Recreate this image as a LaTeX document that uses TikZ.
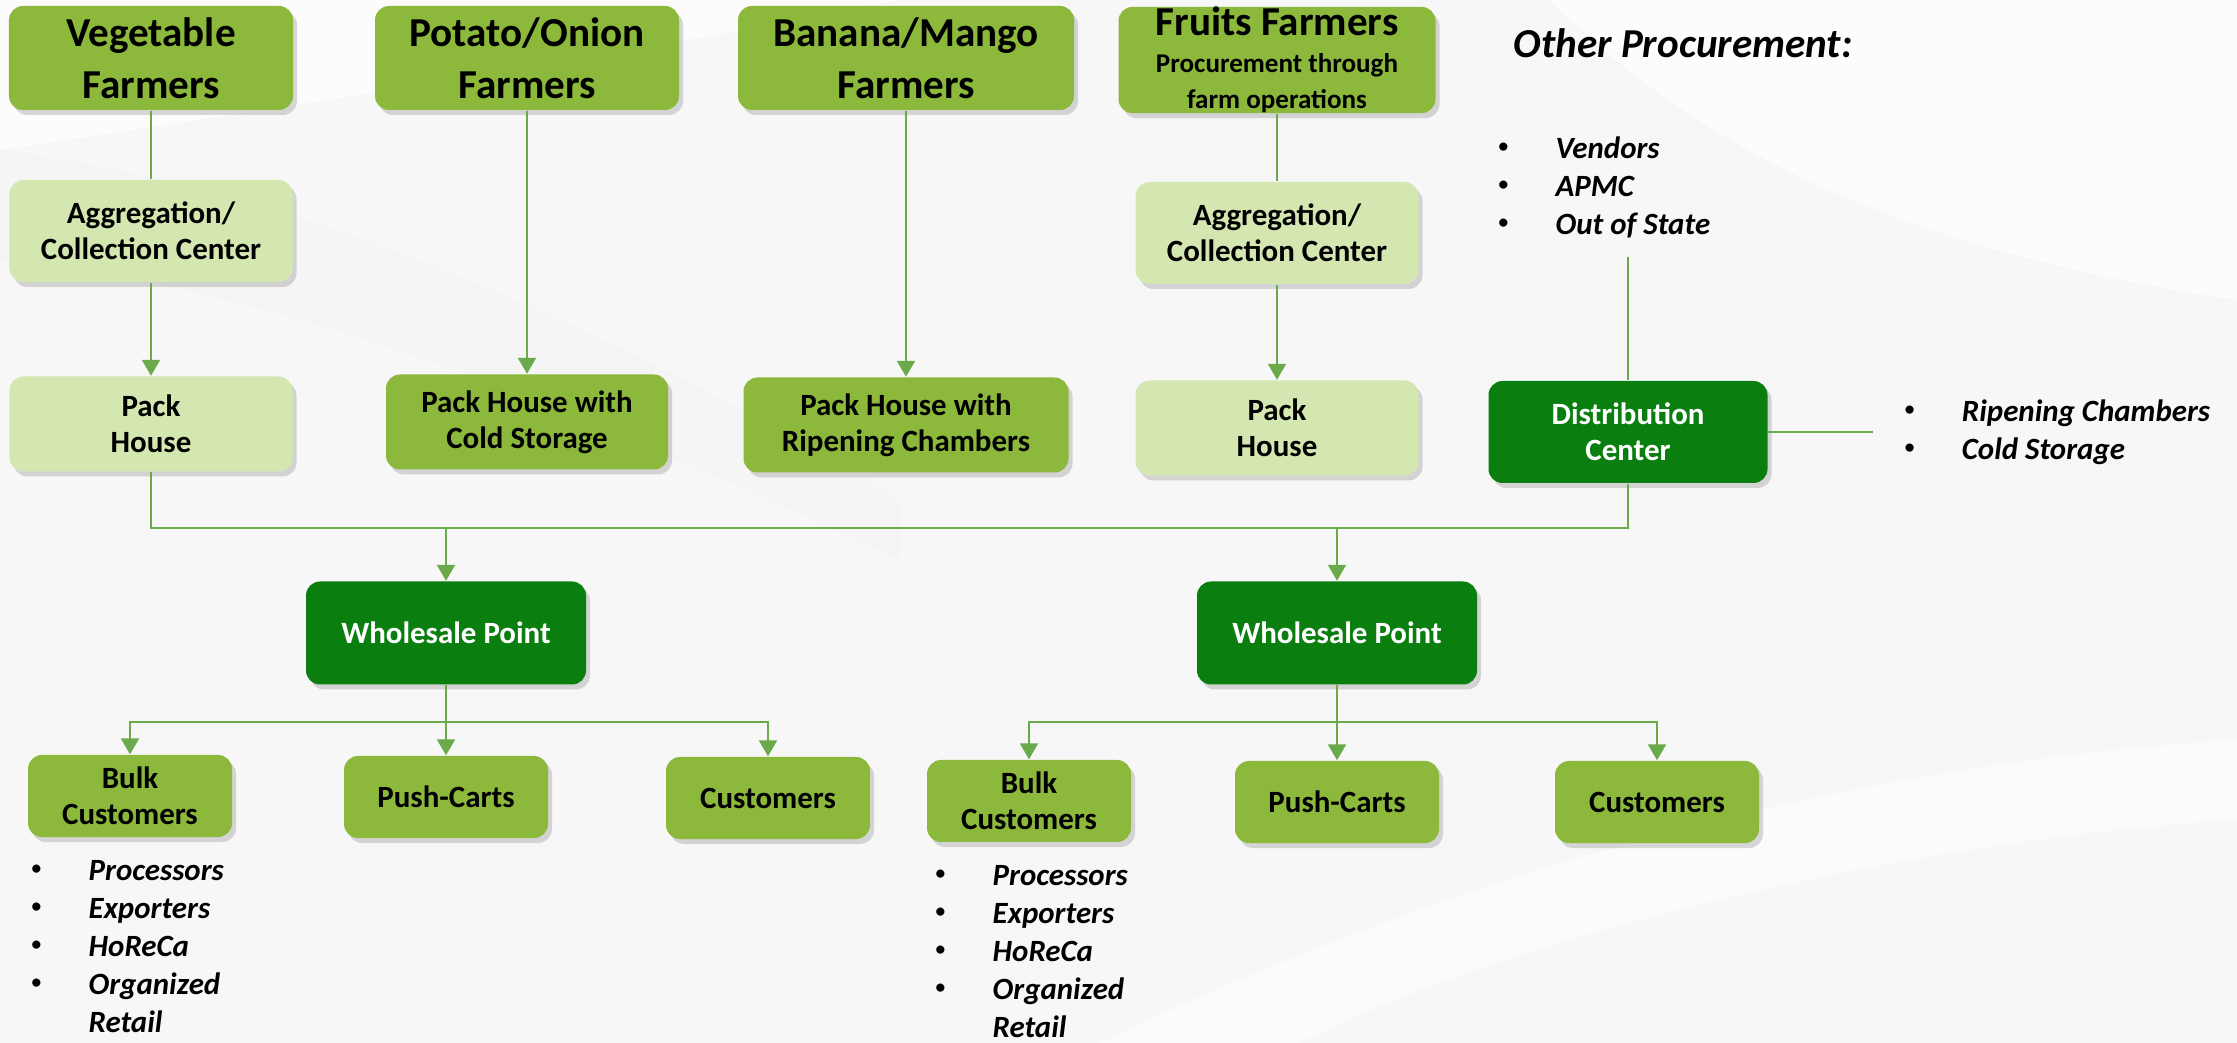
\documentclass[tikz,border=0pt]{standalone}
\usepackage{fontspec}
\setmainfont{Carlito}
\usetikzlibrary{positioning,shadows,arrows.meta}

\definecolor{leafgreen}{HTML}{8CB83B}
\definecolor{palegreen}{HTML}{D4E7B0}
\definecolor{deepgreen}{HTML}{0A7F10}
\definecolor{linegreen}{HTML}{6AAA4A}

\newcommand{\bigtxt}{\fontsize{11.7}{14.8}\selectfont\bfseries}
\newcommand{\midtxt}{\fontsize{8.8}{10.3}\selectfont\bfseries}
\newcommand{\smalltxt}{\fontsize{7.7}{9.4}\selectfont\bfseries}
\newcommand{\listtxt}{\fontsize{8.8}{10.8}\selectfont\bfseries\itshape}
\newcommand{\bul}[1]{\makebox[0.6cm][l]{\hspace*{0.03cm}\raisebox{0.06cm}{\fontsize{5.5}{5.5}\selectfont\upshape\textbullet}}#1}
\newcommand{\nobul}[1]{\hspace*{0.6cm}#1}

\tikzset{
  box/.style={rounded corners=0.14cm, align=center, inner sep=0pt,
    drop shadow={shadow xshift=0.04cm, shadow yshift=-0.05cm, opacity=0.3}},
  farmbox/.style={box, fill=leafgreen, font=\bigtxt, minimum height=1.04cm},
  lightbox/.style={box, fill=palegreen, font=\midtxt, minimum width=2.83cm},
  midbox/.style={box, fill=leafgreen, font=\midtxt},
  darkbox/.style={box, fill=deepgreen, text=white, font=\midtxt, minimum height=1.02cm},
  endbox/.style={box, fill=leafgreen, font=\midtxt, minimum width=2.04cm, minimum height=0.82cm},
  bullist/.style={align=left, font=\listtxt, inner sep=0pt},
  link/.style={draw=linegreen, line width=0.6pt},
  >={Triangle[width=0.18cm,length=0.16cm]}
}

\begin{document}
\begin{tikzpicture}
    % Background
    \fill[black!3] (0,0) rectangle (22.37,-10.43);
    \fill[white,opacity=0.7] (0,0) -- (9,0) .. controls (6,-0.6) and (2,-1.2) .. (0,-1.5) -- cycle;
    \fill[black!4,opacity=0.6] (0,-1.5) .. controls (3,-1.9) and (6,-3.2) .. (9,-5.0) -- (9,-5.6) .. controls (6,-4.2) and (3,-2.9) .. (0,-2.6) -- cycle;
    \fill[white,opacity=0.7] (15.5,0) .. controls (17,-1.5) and (19,-2.5) .. (22.37,-3.0) -- (22.37,0) -- cycle;
    \fill[white,opacity=0.5] (11,-10.43) .. controls (15,-8.5) and (19,-7.6) .. (22.37,-7.4) -- (22.37,-8.2) .. controls (19,-8.4) and (15,-9.4) .. (13,-10.43) -- cycle;
    \useasboundingbox (0,0) rectangle (22.37,-10.43);

    % Farmers
    \node[farmbox, minimum width=2.84cm] (veg) at (1.51,-0.58) {Vegetable\\Farmers};
    \node[farmbox, minimum width=3.04cm] (potato) at (5.27,-0.58) {Potato/Onion\\Farmers};
    \node[farmbox, minimum width=3.36cm] (banana) at (9.06,-0.58) {Banana/Mango\\Farmers};
    \node[farmbox, minimum width=3.17cm, font=\smalltxt] (fruits) at (12.77,-0.60)
        {{\bigtxt Fruits Farmers}\\[0.04cm]Procurement through\\[0.03cm]farm operations};
    \node[font=\bigtxt\itshape, anchor=base west, inner sep=0pt] (othproc) at (15.13,-0.58) {Other Procurement:};
    \node[bullist, anchor=north west] (othlist) at (14.95,-1.36)
        {\bul{Vendors}\\ \bul{APMC}\\ \bul{Out of State}};
    \coordinate (othend) at (16.28,-2.57);

    % Aggregation and pack houses
    \node[lightbox, minimum height=1.02cm] (agg1) at (1.51,-2.31) {Aggregation/\\Collection Center};
    \node[lightbox, minimum height=1.02cm] (agg2) at (12.77,-2.33) {Aggregation/\\Collection Center};
    \node[lightbox, minimum height=0.95cm] (pack1) at (1.51,-4.24) {Pack\\House};
    \node[midbox, minimum width=2.82cm, minimum height=0.95cm] (packcold) at (5.27,-4.22) {Pack House with\\Cold Storage};
    \node[midbox, minimum width=3.25cm, minimum height=0.95cm] (packripe) at (9.06,-4.25) {Pack House with\\Ripening Chambers};
    \node[lightbox, minimum height=0.95cm] (pack2) at (12.77,-4.28) {Pack\\House};
    \node[darkbox, minimum width=2.79cm] (distrib) at (16.28,-4.32) {Distribution\\Center};
    \node[bullist, inner xsep=0.28cm, right=1.05cm of distrib] (storelist)
        {\bul{Ripening Chambers}\\ \bul{Cold Storage}};

    % Wholesale points
    \node[darkbox, minimum width=2.80cm, minimum height=1.03cm] (whole1) at (4.46,-6.33) {Wholesale Point};
    \node[darkbox, minimum width=2.80cm, minimum height=1.03cm] (whole2) at (13.37,-6.33) {Wholesale Point};

    % Buyers
    \node[endbox] (bulk1) at (1.30,-7.96) {Bulk\\Customers};
    \node[endbox] (push1) at (4.46,-7.97) {Push-Carts};
    \node[endbox] (cust1) at (7.68,-7.98) {Customers};
    \node[endbox] (bulk2) at (10.29,-8.01) {Bulk\\Customers};
    \node[endbox] (push2) at (13.37,-8.02) {Push-Carts};
    \node[endbox] (cust2) at (16.57,-8.02) {Customers};
    \node[bullist, anchor=north west] (bulk1list) at (0.28,-8.60)
        {\bul{Processors}\\ \bul{Exporters}\\ \bul{HoReCa}\\ \bul{Organized}\\ \nobul{Retail}};
    \node[bullist, anchor=north west] (bulk2list) at (9.32,-8.65)
        {\bul{Processors}\\ \bul{Exporters}\\ \bul{HoReCa}\\ \bul{Organized}\\ \nobul{Retail}};

    % Connectors
    \draw[link] (veg) -- (agg1);
    \draw[link,->] (agg1) -- (pack1);
    \draw[link,->] (potato) -- (packcold);
    \draw[link,->] (banana) -- (packripe);
    \draw[link] (fruits) -- (agg2);
    \draw[link,->] (agg2) -- (pack2);
    \draw[link] (othend) -- (distrib);
    \draw[link] (distrib) -- (storelist);

    % Collecting rail into the wholesale points
    \coordinate (rail) at (0,-5.28);
    \draw[link] (pack1.south) -- (pack1.south |- rail) -| (distrib.south);
    \draw[link,->] (whole1.north |- rail) -- (whole1.north);
    \draw[link,->] (whole2.north |- rail) -- (whole2.north);

    % Wholesale to buyers
    \coordinate (rail2) at (0,-7.22);
    \draw[link,->] (whole1) -- (push1);
    \draw[link,->] (whole1.south |- rail2) -| (bulk1.north);
    \draw[link,->] (whole1.south |- rail2) -| (cust1.north);
    \draw[link,->] (whole2) -- (push2);
    \draw[link,->] (whole2.south |- rail2) -| (bulk2.north);
    \draw[link,->] (whole2.south |- rail2) -| (cust2.north);
\end{tikzpicture}
\end{document}
